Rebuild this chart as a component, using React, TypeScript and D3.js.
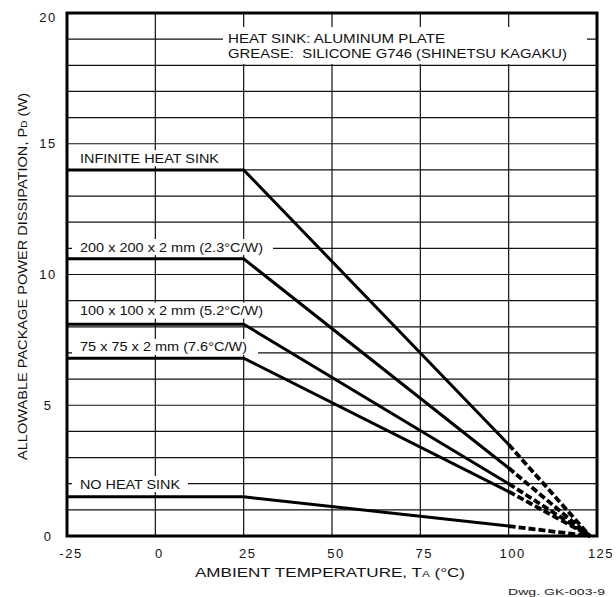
import * as d3 from "d3";

// ambient temperature breakpoints (°C)
const tempFlat = [-25, 25];
const tempKnee = 100;
const tempMax = 125;

const seriesNames = [
  "INFINITE HEAT SINK",
  "200 x 200 x 2 mm (2.3°C/W)",
  "100 x 100 x 2 mm (5.2°C/W)",
  "75 x 75 x 2 mm (7.6°C/W)",
  "NO HEAT SINK",
];
// allowable power (W) on the flat part, at 100°C and at 125°C
const powerFlat = [14, 10.6, 8.1, 6.8, 1.5];
const powerAt100 = [3.5, 2.6, 2.0, 1.7, 0.38];
const powerAt125 = [0, 0, 0, 0, 0];

const xTicks = [-25, 0, 25, 50, 75, 100, 125];
const yTicks = [0, 5, 10, 15, 20];
const yGrid = d3.range(0, 21, 1);

const W = 616;
const H = 597;
const marginLeft = 67;
const marginRight = 19;
const marginTop = 13;
const marginBottom = 61;
const font = "'Liberation Sans', Arial, sans-serif";

// label layout: end of white mask, text width, text center (in W)
const labelMask = [226, 273, 270, 258, 188];
const labelWidth = [139, 183, 183, 167, 100];
const labelY = [14.45, 11.05, 8.62, 7.23, 1.99];

const App = () => {
  const xScale = d3
    .scaleLinear()
    .domain([-25, 125])
    .range([marginLeft, W - marginRight]);
  const yScale = d3
    .scaleLinear()
    .domain([0, 20])
    .range([H - marginBottom, marginTop]);

  const line = d3
    .line<[number, number]>()
    .x((d) => xScale(d[0]))
    .y((d) => yScale(d[1]));

  const x0 = xScale(-25);
  const x1 = xScale(125);
  const y0 = yScale(0);
  const y1 = yScale(20);

  return (
    <svg
      width={W}
      height={H}
      style={{ position: "absolute", left: 0, top: 0, background: "#fff" }}
      fontFamily={font}
    >
      {/* grid */}
      <g stroke="#111" strokeWidth={1.2}>
        {yGrid.map((v) => (
          <line key={"h" + v} x1={x0} x2={x1} y1={yScale(v)} y2={yScale(v)} />
        ))}
        {xTicks.map((v) => (
          <line key={"v" + v} x1={xScale(v)} x2={xScale(v)} y1={y0} y2={y1} />
        ))}
      </g>

      {/* white masks behind labels */}
      <rect x={223} y={27} width={364} height={37} fill="#fff" />
      {seriesNames.map((n, i) => (
        <rect
          key={"m" + n}
          x={x0 + 5}
          y={yScale(labelY[i]) - 8}
          width={labelMask[i] - x0 - 5}
          height={16}
          fill="#fff"
        />
      ))}

      {/* curves */}
      <g fill="none" stroke="#000" strokeWidth={3}>
        {seriesNames.map((n, i) => (
          <g key={"c" + n}>
            <path
              d={
                line([
                  [tempFlat[0], powerFlat[i]],
                  [tempFlat[1], powerFlat[i]],
                  [tempKnee, powerAt100[i]],
                ]) as string
              }
            />
            <path
              d={
                line([
                  [tempKnee, powerAt100[i]],
                  [tempMax - 2, powerAt125[i]],
                ]) as string
              }
              strokeDasharray="7,3"
              strokeWidth={3.8}
            />
          </g>
        ))}
      </g>

      {/* frame */}
      <rect
        x={x0}
        y={y1}
        width={x1 - x0}
        height={y0 - y1}
        fill="none"
        stroke="#000"
        strokeWidth={3}
      />

      {/* labels */}
      <g fontSize={13} fill="#111">
        {seriesNames.map((n, i) => (
          <text
            key={"t" + n}
            x={80}
            y={yScale(labelY[i])}
            dy="0.35em"
            textLength={labelWidth[i]}
            lengthAdjust="spacingAndGlyphs"
          >
            {n}
          </text>
        ))}
        <text
          x={228}
          y={43}
          style={{ whiteSpace: "pre" }}
          textLength={217}
          lengthAdjust="spacingAndGlyphs"
        >
          HEAT SINK: ALUMINUM PLATE
        </text>
        <text
          x={228}
          y={58}
          style={{ whiteSpace: "pre" }}
          textLength={339}
          lengthAdjust="spacingAndGlyphs"
        >
          GREASE:  SILICONE G746 (SHINETSU KAGAKU)
        </text>
      </g>

      {/* tick labels */}
      <g fontSize={13} fill="#111" letterSpacing={1.5}>
        {xTicks.map((v) => (
          <text key={"xt" + v} x={xScale(v) + 4} y={558} textAnchor="middle">
            {v}
          </text>
        ))}
        {yTicks.map((v) => (
          <text
            key={"yt" + v}
            x={48}
            y={yScale(v) + (v === 20 ? 4 : 0)}
            dy="0.35em"
            textAnchor="middle"
          >
            {v}
          </text>
        ))}
      </g>

      {/* axis titles */}
      <text
        x={195}
        y={577}
        fontSize={13}
        fill="#111"
        textLength={270}
        lengthAdjust="spacingAndGlyphs"
      >
        AMBIENT TEMPERATURE, T<tspan fontSize={9}>A</tspan> (°C)
      </text>
      <text
        transform={`translate(27,460) rotate(-90)`}
        fontSize={13}
        fill="#111"
        textLength={367}
        lengthAdjust="spacingAndGlyphs"
      >
        ALLOWABLE PACKAGE POWER DISSIPATION, P<tspan fontSize={9}>D</tspan> (W)
      </text>
      <text
        x={508}
        y={595}
        fontSize={9}
        fill="#222"
        textLength={97}
        lengthAdjust="spacingAndGlyphs"
      >
        Dwg. GK-003-9
      </text>
    </svg>
  );
};

export default App;
